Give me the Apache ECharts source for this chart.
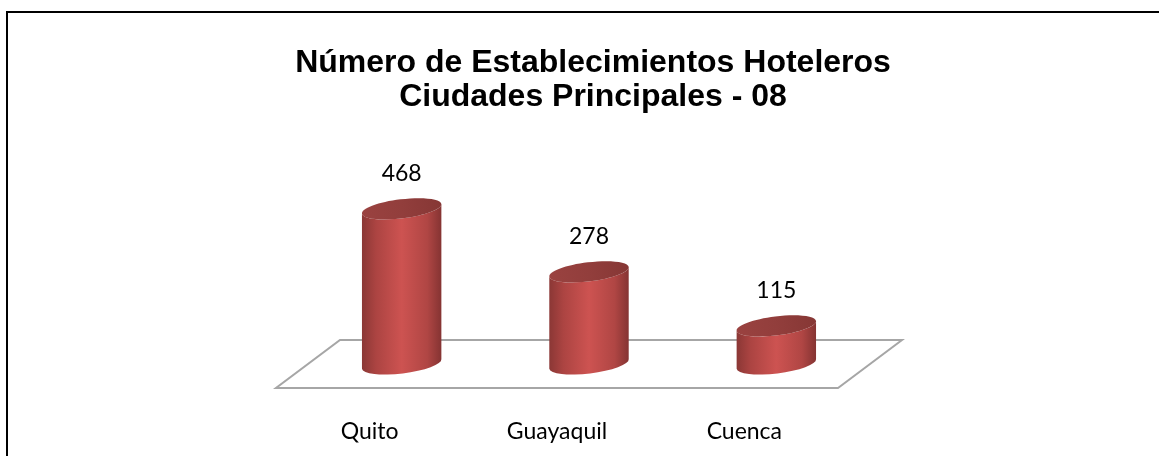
<!DOCTYPE html>
<html>
<head>
<meta charset="utf-8">
<script src="https://cdn.jsdelivr.net/npm/echarts@6/dist/echarts.min.js"></script>
<style>
html,body{margin:0;padding:0;background:#fff;}
#chart{width:1159px;height:456px;}
</style>
</head>
<body>
<div id="chart"></div>
<script>
var titleLines = ['Número de Establecimientos Hoteleros', 'Ciudades Principales - 08'];
var categories = ['Quito', 'Guayaquil', 'Cuenca'];
var values = [468, 278, 115];

var DEPTH_X = 64, DEPTH_Y = -48;   // floor depth offset (px)
var RX = 40, RY = 9.5, TILT = -7 * Math.PI / 180;

var chart = echarts.init(document.getElementById('chart'), null, {renderer: 'canvas'});

function cylinderItem(params, api) {
  var i = api.value(0);
  var v = api.value(1);
  var top = api.coord([i, v]);
  var base = api.coord([i, 0]);
  var cx = top[0] + DEPTH_X / 2;
  var yTop = top[1] + DEPTH_Y / 2;
  var yBot = base[1] + DEPTH_Y / 2;
  var a = RX * Math.cos(TILT);
  var b = -RX * Math.sin(TILT);
  var rotDeg = TILT * 180 / Math.PI;
  var body = 'M' + (cx - a) + ' ' + (yTop + b) +
    ' L' + (cx - a) + ' ' + (yBot + b) +
    ' A' + RX + ' ' + RY + ' ' + rotDeg + ' 0 0 ' + (cx + a) + ' ' + (yBot - b) +
    ' L' + (cx + a) + ' ' + (yTop - b) +
    ' A' + RX + ' ' + RY + ' ' + rotDeg + ' 0 1 ' + (cx - a) + ' ' + (yTop + b) + ' Z';
  var bodyGrad = new echarts.graphic.LinearGradient(0, 0, 1, 0, [
    {offset: 0, color: '#8a3735'},
    {offset: 0.18, color: '#ac4442'},
    {offset: 0.5, color: '#cd5351'},
    {offset: 0.82, color: '#b04644'},
    {offset: 1, color: '#843332'}
  ]);
  var topGrad = new echarts.graphic.LinearGradient(0, 0, 1, 0, [
    {offset: 0, color: '#9a4240'},
    {offset: 0.5, color: '#923e3c'},
    {offset: 1, color: '#863735'}
  ]);
  return {
    type: 'group',
    children: [
      {type: 'path', shape: {pathData: body}, style: {fill: bodyGrad}},
      {type: 'ellipse', shape: {cx: cx, cy: yTop, rx: RX, ry: RY}, originX: cx, originY: yTop, rotation: -TILT,
        style: {fill: topGrad}},
      {type: 'text', x: cx, y: yTop - RY - 26,
        style: {text: String(v), fill: '#000', font: '23px Lato', align: 'center', verticalAlign: 'middle'}}
    ]
  };
}

function floorItem(params, api) {
  var band = api.size([1, 0])[0];
  var first = api.coord([0, 0]);
  var last = api.coord([categories.length - 1, 0]);
  var xl = first[0] - band / 2, xr = last[0] + band / 2, y = first[1];
  return {
    type: 'polygon',
    shape: {points: [[xl, y], [xr, y], [xr + DEPTH_X, y + DEPTH_Y], [xl + DEPTH_X, y + DEPTH_Y]]},
    style: {fill: '#ffffff', stroke: '#a6a6a6', lineWidth: 2},
    silent: true
  };
}

chart.setOption({
  backgroundColor: '#ffffff',
  animation: false,
  title: {
    text: titleLines.join('\n'),
    left: 588, top: 41, textAlign: 'center',
    textStyle: {fontFamily: 'Liberation Sans', fontWeight: 'bold', fontSize: 32, lineHeight: 34, color: '#000'}
  },
  graphic: [
    {type: 'line', shape: {x1: 6, y1: 12, x2: 1159, y2: 12}, style: {stroke: '#000', lineWidth: 2}},
    {type: 'line', shape: {x1: 7, y1: 11, x2: 7, y2: 456}, style: {stroke: '#000', lineWidth: 2}}
  ],
  grid: {left: 276, right: 321, top: 189, bottom: 68},
  xAxis: {
    type: 'category', data: categories,
    axisLine: {show: false}, axisTick: {show: false},
    axisLabel: {fontFamily: 'Lato', fontSize: 23, color: '#000', margin: 32}
  },
  yAxis: {type: 'value', min: 0, max: 600, show: false, splitLine: {show: false}},
  series: [
    {type: 'custom', renderItem: floorItem, data: [[0, 0]], z: 1, silent: true},
    {type: 'custom', renderItem: cylinderItem, z: 2,
      data: values.map(function (v, i) { return [i, v]; })}
  ]
});
</script>
</body>
</html>
